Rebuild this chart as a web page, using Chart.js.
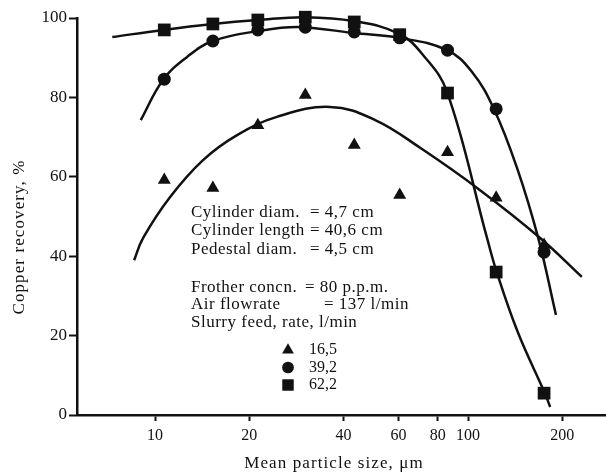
<!DOCTYPE html>
<html>
<head>
<meta charset="utf-8">
<script src="https://cdn.jsdelivr.net/npm/chart.js@4.4.0/dist/chart.umd.min.js"></script>
<style>
  html, body { margin: 0; padding: 0; background: #fff; }
  #wrap { width: 606px; height: 474px; position: relative; }
</style>
</head>
<body>
<div id="wrap"><canvas id="recoveryChart"></canvas></div>
<script>
// ============================
// DATA
// ============================
const feedRates = ["16,5", "39,2", "62,2"];
const particleSizes = [10.7, 15.3, 21.3, 30.2, 43.3, 60.5, 86, 123, 175];
const recovery165 = [59.2, 57.2, 73.0, 80.6, 68.0, 55.4, 66.2, 54.7, 42.8];
const recovery392 = [84.6, 94.2, 97.0, 97.7, 96.5, 95.0, 91.9, 77.1, 41.0];
const recovery622 = [97.0, 98.5, 99.5, 100.2, 99.0, 95.8, 81.1, 36.0, 5.5];

// fitted curves
const fit165X = [8.57, 9.16, 11.17, 14.23, 18.28, 24.5, 36.2, 50.5, 70.3, 109, 170, 231];
const fit165Y = [39.0, 44.6, 54.9, 64.2, 70.5, 75.1, 77.6, 74.3, 67.3, 56.7, 44.6, 34.8];
const fit392X = [9.0, 10.6, 12.66, 15.3, 21.3, 29.0, 43, 60.3, 85.7, 103, 121, 143.5, 167.6, 191];
const fit392Y = [74.3, 84.4, 90.2, 94.2, 96.7, 97.7, 96.2, 95.0, 91.9, 86.4, 77.1, 62.2, 44.6, 25.2];
const fit622X = [7.3, 10.6, 15.3, 21.3, 30.2, 43.3, 60.3, 71.8, 85.7, 115, 123.5, 144.5, 176, 183];
const fit622Y = [95.2, 97.0, 98.5, 99.5, 100.2, 99.2, 96.0, 90.7, 81.4, 44.6, 36.0, 20.7, 5.5, 2.0];

const xTicks = [10, 20, 40, 60, 80, 100, 200];
const yTicks = [0, 20, 40, 60, 80, 100];

const xTitle = "Mean particle size, μm";
const yTitle = "Copper recovery, %";

// [label, value, y, value x]
const notes = [
  ["Cylinder diam.", "= 4,7 cm", 213, 310],
  ["Cylinder length", "= 40,6 cm", 231, 310],
  ["Pedestal diam.", "= 4,5 cm", 250, 310],
  ["Frother concn.", "= 80 p.p.m.", 288, 305],
  ["Air flowrate", "= 137 l/min", 305, 324],
  ["Slurry feed, rate, l/min", "", 323, 0],
];

const INK = "#111";
const SERIF = "'Liberation Serif', 'DejaVu Serif', serif";
const markerStyles = ["triangle", "circle", "rect"];
const markerRadius = [7.5, 6.5, 9];

const toXY = (xs, ys) => xs.map((x, i) => ({ x: x, y: ys[i] }));

function pointsSet(ys, i) {
  return {
    label: feedRates[i],
    data: toXY(particleSizes, ys),
    showLine: false,
    pointStyle: markerStyles[i],
    pointRadius: markerRadius[i],
    pointBackgroundColor: INK,
    pointBorderColor: INK,
    pointBorderWidth: 0,
    clip: false,
  };
}

function curveSet(xs, ys) {
  return {
    data: toXY(xs, ys),
    showLine: true,
    pointRadius: 0,
    borderColor: INK,
    borderWidth: 2.5,
    tension: 0.4,
    clip: false,
  };
}

// ============================
// TEXT BLOCK, KEY, AXIS TITLES
// ============================
const notesPlugin = {
  id: "notes",
  afterDraw(chart) {
    const ctx = chart.ctx;
    ctx.save();
    ctx.fillStyle = INK;
    ctx.textBaseline = "middle";
    ctx.font = "17px " + SERIF;
    ctx.letterSpacing = "0.5px";
    notes.forEach((row) => {
      ctx.fillText(row[0], 191, row[2]);
      if (row[1]) ctx.fillText(row[1], row[3], row[2]);
    });

    // axis titles
    ctx.letterSpacing = "1.1px";
    ctx.textAlign = "center";
    ctx.fillText(xTitle, 334, 464);
    ctx.save();
    ctx.translate(20, 237);
    ctx.rotate(-Math.PI / 2);
    ctx.fillText(yTitle, 0, 0);
    ctx.restore();

    // marker key
    ctx.letterSpacing = "0px";
    ctx.textAlign = "left";
    ctx.font = "16px " + SERIF;
    feedRates.forEach((label, i) => {
      const ky = 350 + i * 17.5;
      Chart.helpers.drawPoint(ctx, { pointStyle: markerStyles[i], radius: markerRadius[i] * 0.9, rotation: 0, borderWidth: 0 }, 288, ky);
      ctx.fillText(label, 309, ky);
    });
    ctx.restore();
  },
};

const ctx = document.getElementById("recoveryChart").getContext("2d");

const myChart = new Chart(ctx, {
  type: "scatter",
  data: {
    datasets: [
      curveSet(fit165X, fit165Y),
      curveSet(fit392X, fit392Y),
      curveSet(fit622X, fit622Y),
      pointsSet(recovery165, 0),
      pointsSet(recovery392, 1),
      pointsSet(recovery622, 2),
    ],
  },
  options: {
    responsive: true,
    maintainAspectRatio: false,
    animation: false,
    layout: { autoPadding: false, padding: { top: 18, right: 0, left: 0, bottom: 0 } },
    plugins: {
      legend: { display: false },
      tooltip: { enabled: false },
    },
    scales: {
      x: {
        type: "logarithmic",
        min: 5.63,
        max: 276,
        afterBuildTicks: (scale) => { scale.ticks = xTicks.map((v) => ({ value: v })); },
        afterFit: (scale) => { scale.height = 59; },
        grid: { drawOnChartArea: false, drawTicks: true, tickLength: 6, tickWidth: 2, tickColor: INK },
        border: { display: true, color: INK, width: 2.5 },
        ticks: {
          autoSkip: false,
          maxRotation: 0,
          padding: 5,
          color: INK,
          font: { family: SERIF, size: 16 },
          callback: (v) => String(v),
        },
      },
      y: {
        min: 0,
        max: 100,
        afterBuildTicks: (scale) => { scale.ticks = yTicks.map((v) => ({ value: v })); },
        afterFit: (scale) => { scale.width = 77; },
        grid: { drawOnChartArea: false, drawTicks: true, tickLength: 8, tickWidth: 2, tickColor: INK },
        border: { display: true, color: INK, width: 2.5 },
        ticks: {
          padding: 2,
          color: INK,
          font: { family: SERIF, size: 17 },
        },
      },
    },
  },
  plugins: [notesPlugin],
});
</script>
</body>
</html>
